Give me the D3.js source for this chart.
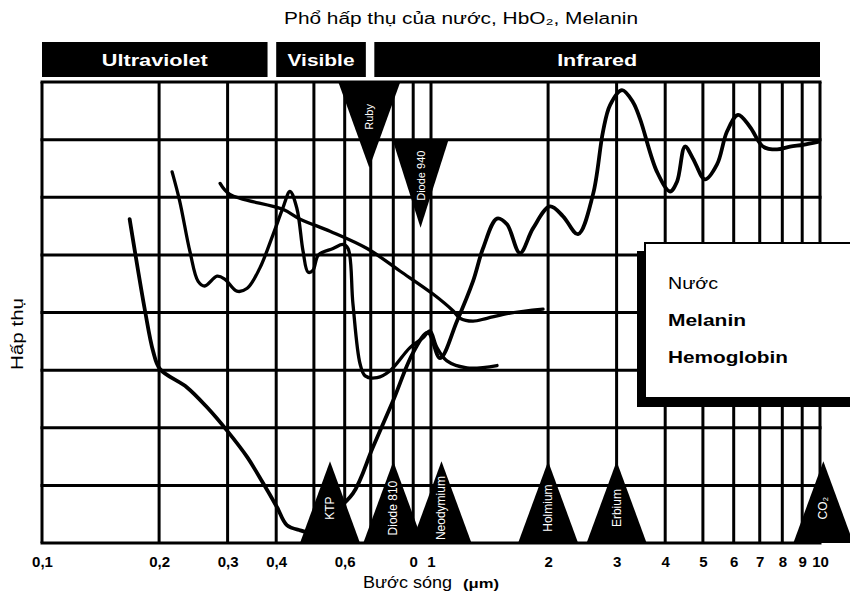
<!DOCTYPE html>
<html>
<head>
<meta charset="utf-8">
<script src="https://cdn.jsdelivr.net/npm/d3@7"></script>
<style>
  body { margin: 0; background: #fff; }
  text { font-family: "Liberation Sans", Arial, sans-serif; }
</style>
</head>
<body>
<script>
// wavelength (um) and absorption (grid units 0..8)
var waterWl = [0.168,0.184,0.193,0.201,0.236,0.266,0.299,0.337,0.370,0.402,0.426,0.461,0.489,0.55,0.63,0.709,0.799,0.899,0.982,1.055,1.166,1.282,1.36,1.478,1.568,1.693,1.829,2.022,2.185,2.387,2.609,2.768,2.886,3.097,3.306,3.446,3.811,4.116,4.29,4.498,4.716,5.063,5.436,5.767,6.156,6.609,7.137,7.755,8.375,9.044,9.88];
var waterAbs = [5.62,4.03,3.33,3.02,2.70,2.35,1.95,1.49,1.04,0.62,0.31,0.22,0.19,0.48,0.86,1.66,2.47,3.30,3.65,3.21,3.85,4.54,5.11,5.63,5.53,5.03,5.46,5.84,5.67,5.36,6.05,7.14,7.60,7.86,7.65,7.36,6.44,6.10,6.27,6.88,6.67,6.31,6.57,7.14,7.43,7.22,6.88,6.83,6.88,6.91,6.96];

var hbWl = [0.216,0.226,0.240,0.252,0.262,0.282,0.295,0.317,0.337,0.363,0.393,0.416,0.434,0.452,0.469,0.483,0.497,0.514,0.560,0.594,0.612,0.630,0.657,0.677,0.727,0.785,0.883,0.954,0.994,1.036,1.099,1.237,1.478];
var hbAbs = [6.44,5.93,5.06,4.54,4.46,4.63,4.58,4.37,4.42,4.77,5.36,5.81,6.10,5.81,5.06,4.70,4.73,5.00,5.11,5.18,5.11,4.15,3.11,2.90,2.87,2.99,3.39,3.56,3.68,3.39,3.16,3.04,3.08];

var melWl = [0.287,0.304,0.416,0.461,0.550,0.685,0.832,1.012,1.139,1.187,1.282,1.393,1.596,1.941];
var melAbs = [6.24,6.05,5.79,5.62,5.41,5.11,4.72,4.32,4.03,3.90,3.85,3.90,3.99,4.06];

var gridWl = [0.1,0.2,0.3,0.4,0.5,0.6,0.7,0.8,0.9,1,2,3,4,5,6,7,8,9,10];
var gridAbs = [0,1,2,3,4,5,6,7,8];

var tickWl = [0.1,0.2,0.3,0.4,0.6,0.9,1,2,3,4,5,6,7,8,9,10];
var tickText = ["0,1","0,2","0,3","0,4","0,6","0","1","2","3","4","5","6","7","8","9","10"];

var bandNames = ["Ultraviolet","Visible","Infrared"];
var bandFrom = [0.1,0.4,0.715];
var bandTo = [0.38,0.68,10];

var laserNames = ["KTP","Diode 810","Neodymium","Holmium","Erbium","CO₂"];
var laserWl = [0.55,0.80,1.064,2.0,3.0,10.2];
var laserPeak = 1.42;

var topLaserNames = ["Ruby","Diode 940"];
var topLaserWl = [0.694,0.94];
var topLaserBase = [8,7];
var topLaserTip = [6.51,5.47];

var legendNames = ["Nước","Melanin","Hemoglobin"];

var W = 850, H = 598;
var svg = d3.select("body").append("svg").attr("width", W).attr("height", H);

var x = d3.scaleLog().domain([0.1, 10]).range([42, 820]);
var y = d3.scaleLinear().domain([0, 8]).range([543, 82]);

// title
svg.append("text")
	.attr("x", 284).attr("y", 24)
	.attr("textLength", 354).attr("lengthAdjust", "spacingAndGlyphs")
	.style("font-size", "16px")
	.text("Phổ hấp thụ của nước, HbO₂, Melanin");

// spectrum bands
var bands = svg.append("g").selectAll("g")
	.data(bandNames)
	.enter().append("g");
bands.append("rect")
	.attr("x", function(d, i) { return x(bandFrom[i]); })
	.attr("y", 42)
	.attr("width", function(d, i) { return x(bandTo[i]) - x(bandFrom[i]); })
	.attr("height", 35)
	.attr("fill", "#000");
var bandTextW = [106, 67, 80];
bands.append("text")
	.attr("x", function(d, i) { return (x(bandFrom[i]) + x(bandTo[i])) / 2 - bandTextW[i] / 2; })
	.attr("y", 66)
	.attr("textLength", function(d, i) { return bandTextW[i]; })
	.attr("lengthAdjust", "spacingAndGlyphs")
	.attr("fill", "#fff")
	.style("font-size", "17px").style("font-weight", "bold")
	.text(function(d) { return d; });

// grid
var grid = svg.append("g").attr("stroke", "#000").attr("stroke-width", 3);
grid.selectAll(".v").data(gridWl).enter().append("line")
	.attr("x1", function(d) { return x(d); }).attr("x2", function(d) { return x(d); })
	.attr("y1", y(8)).attr("y2", y(0));
grid.selectAll(".h").data(gridAbs).enter().append("line")
	.attr("x1", x(0.1) - 1.5).attr("x2", x(10) + 1.5)
	.attr("y1", function(d) { return y(d); }).attr("y2", function(d) { return y(d); });

// curves
var line = d3.line()
	.x(function(d) { return x(d[0]); })
	.y(function(d) { return y(d[1]); })
	.curve(d3.curveCatmullRom.alpha(0.5));

var curves = [d3.zip(waterWl, waterAbs), d3.zip(hbWl, hbAbs), d3.zip(melWl, melAbs)];
svg.append("g").selectAll("path")
	.data(curves)
	.enter().append("path")
	.attr("d", line)
	.attr("fill", "none")
	.attr("stroke", "#000")
	.attr("stroke-width", function(d, i) { return i === 0 ? 3.8 : 3.3; })
	.attr("stroke-linejoin", "round")
	.attr("stroke-linecap", "round");

// lasers, bottom
var lasers = svg.append("g").selectAll("g")
	.data(laserNames)
	.enter().append("g");
lasers.append("path")
	.attr("d", function(d, i) {
		var cx = x(laserWl[i]);
		return "M" + (cx - 30) + "," + y(0) + "L" + cx + "," + y(laserPeak) + "L" + (cx + 30) + "," + y(0) + "Z";
	})
	.attr("fill", "#000");
lasers.append("text")
	.attr("transform", function(d, i) {
		return "translate(" + (x(laserWl[i]) + 4) + "," + ((y(0) + y(laserPeak)) / 2 + 6) + ") rotate(-90)";
	})
	.attr("text-anchor", "middle")
	.attr("fill", "#fff")
	.style("font-size", "12px")
	.text(function(d) { return d; });

// lasers, top
var topLasers = svg.append("g").selectAll("g")
	.data(topLaserNames)
	.enter().append("g");
topLasers.append("path")
	.attr("d", function(d, i) {
		var cx = x(topLaserWl[i]);
		var hw = i === 0 ? 31 : 28;
		return "M" + (cx - hw) + "," + y(topLaserBase[i]) + "L" + cx + "," + y(topLaserTip[i]) + "L" + (cx + hw) + "," + y(topLaserBase[i]) + "Z";
	})
	.attr("fill", "#000");
topLasers.append("text")
	.attr("transform", function(d, i) {
		return "translate(" + (x(topLaserWl[i]) + 4) + "," + ((y(topLaserBase[i]) + y(topLaserTip[i])) / 2 - 8) + ") rotate(-90)";
	})
	.attr("text-anchor", "middle")
	.attr("fill", "#fff")
	.style("font-size", "11px")
	.text(function(d) { return d; });

// x axis labels
var xAxis = d3.axisBottom(x)
	.tickValues(tickWl)
	.tickFormat(function(d, i) { return tickText[i]; })
	.tickSize(0)
	.tickPadding(13);
var ax = svg.append("g").attr("transform", "translate(0," + y(0) + ")").call(xAxis);
ax.select(".domain").remove();
ax.selectAll("text")
	.attr("fill", "#000")
	.style("font-family", "'Liberation Sans', Arial, sans-serif")
	.style("font-size", "15px").style("font-weight", "bold");

svg.append("text")
	.attr("x", 363).attr("y", 588)
	.attr("textLength", 89).attr("lengthAdjust", "spacingAndGlyphs")
	.style("font-size", "16px")
	.text("Bước sóng");
svg.append("text")
	.attr("x", 463).attr("y", 588)
	.attr("textLength", 36).attr("lengthAdjust", "spacingAndGlyphs")
	.style("font-size", "12px").style("font-weight", "bold")
	.text("(μm)");

svg.append("text")
	.attr("transform", "translate(23,370) rotate(-90)")
	.attr("textLength", 72).attr("lengthAdjust", "spacingAndGlyphs")
	.style("font-size", "16px")
	.text("Hấp thụ");

// legend
var lg = svg.append("g");
lg.append("rect").attr("x", 637).attr("y", 251).attr("width", 213).attr("height", 156).attr("fill", "#000");
lg.append("rect").attr("x", 645).attr("y", 243).attr("width", 210).attr("height", 155)
	.attr("fill", "#fff").attr("stroke", "#000").attr("stroke-width", 2);
var legendW = [50, 78, 120];
lg.selectAll("text").data(legendNames).enter().append("text")
	.attr("x", 668)
	.attr("y", function(d, i) { return 289 + i * 37; })
	.attr("textLength", function(d, i) { return legendW[i]; })
	.attr("lengthAdjust", "spacingAndGlyphs")
	.style("font-size", "16px")
	.style("font-weight", function(d, i) { return i === 0 ? "normal" : "bold"; })
	.text(function(d) { return d; });
</script>
</body>
</html>
